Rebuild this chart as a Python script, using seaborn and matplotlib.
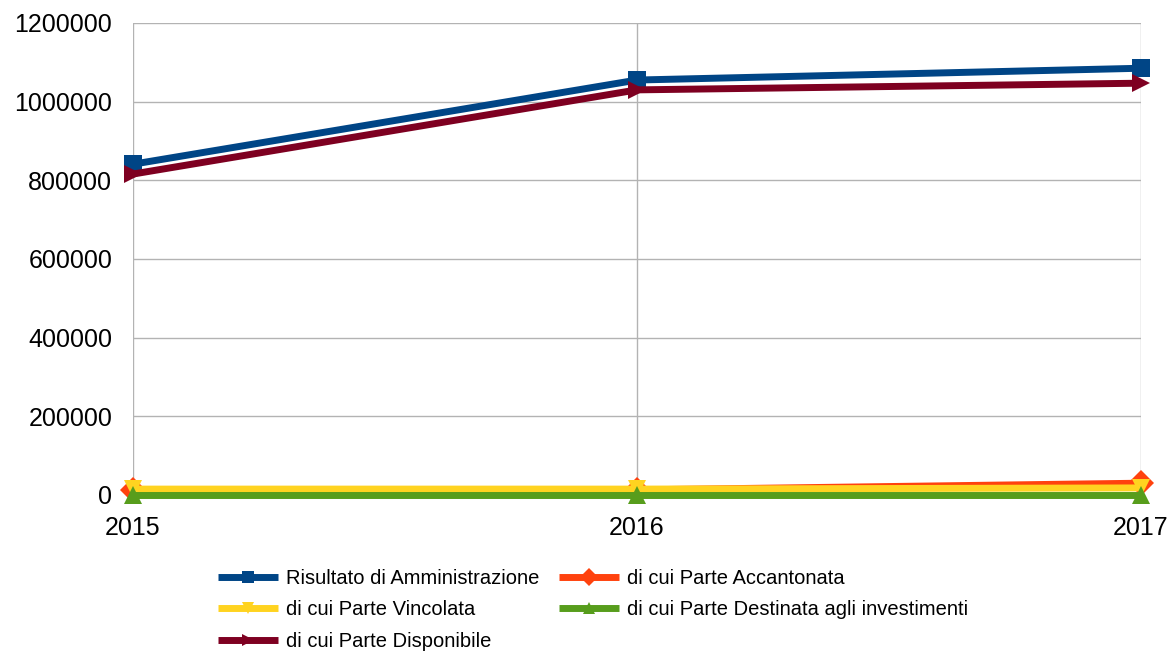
import matplotlib
matplotlib.use("Agg")
import matplotlib.pyplot as plt
import seaborn as sns
import pandas as pd

years = [2015, 2016, 2017]
series_names = [
    "Risultato di Amministrazione",
    "di cui Parte Accantonata",
    "di cui Parte Vincolata",
    "di cui Parte Destinata agli investimenti",
    "di cui Parte Disponibile",
]
risultato = [841000, 1055000, 1085000]
accantonata = [12000, 13000, 30000]
vincolata = [15000, 15000, 18000]
destinata = [0, 0, 0]
disponibile = [816000, 1030000, 1047000]
yticks = [0, 200000, 400000, 600000, 800000, 1000000, 1200000]

values = [risultato, accantonata, vincolata, destinata, disponibile]
colors = ["#004586", "#ff420e", "#ffd320", "#579d1c", "#7e0021"]
markers = ["s", "D", "v", "^", ">"]
msizes = [13, 9, 14, 14, 14]

rows = []
for name, vals in zip(series_names, values):
    for y, v in zip(years, vals):
        rows.append({"year": y, "value": v, "series": name})
df = pd.DataFrame(rows)

sns.set_theme(style="white")
plt.rcParams["font.family"] = ["Liberation Sans", "DejaVu Sans"]

fig = plt.figure(figsize=(11.71, 6.53), dpi=100)
ax = fig.add_axes([133 / 1171, 1 - 495 / 653, (1141 - 133) / 1171, (495 - 23) / 653])

sns.lineplot(
    data=df, x="year", y="value", hue="series", style="series",
    hue_order=series_names, style_order=series_names,
    palette=dict(zip(series_names, colors)),
    markers=dict(zip(series_names, markers)),
    dashes=False, linewidth=5, markersize=13, markeredgewidth=0,
    ax=ax, legend=True, clip_on=False, zorder=3,
)
for line in ax.get_lines():
    line.set_solid_capstyle("butt")
    lab = line.get_label()
    if lab in series_names:
        line.set_markersize(msizes[series_names.index(lab)])

ax.set_xlim(2015, 2017)
ax.set_ylim(0, 1200000)
ax.set_xticks(years)
ax.set_xticklabels([str(y) for y in years])
ax.set_yticks(yticks)
ax.set_yticklabels([str(t) for t in yticks])
ax.grid(True, color="#b3b3b3", linewidth=1)
ax.set_axisbelow(True)
for s in ax.spines.values():
    s.set_visible(False)
ax.tick_params(axis="both", which="both", length=10, color="#b3b3b3", width=1,
               labelsize=18, labelcolor="black", direction="out", pad=5)
ax.tick_params(axis="x", pad=5)
ax.set_xlabel("")
ax.set_ylabel("")

handles, labels = ax.get_legend_handles_labels()
hmap = dict(zip(labels, handles))
order = [series_names[0], series_names[2], series_names[4], series_names[1], series_names[3]]
leg = ax.legend([hmap[n] for n in order], order, ncol=2, frameon=False,
                loc="upper left", bbox_to_anchor=(218 / 1171, 1 - 569 / 653),
                bbox_transform=fig.transFigure,
                prop={"family": ["Liberation Sans", "DejaVu Sans"], "size": 14.5},
                handlelength=3.0, handletextpad=0.4, columnspacing=0.95, labelspacing=0.62,
                borderaxespad=0, borderpad=0, labelcolor="black")
for h in leg.legend_handles:
    h.set_markersize(9)
    h.set_solid_capstyle("butt")

fig.savefig("out.png", dpi=100)
